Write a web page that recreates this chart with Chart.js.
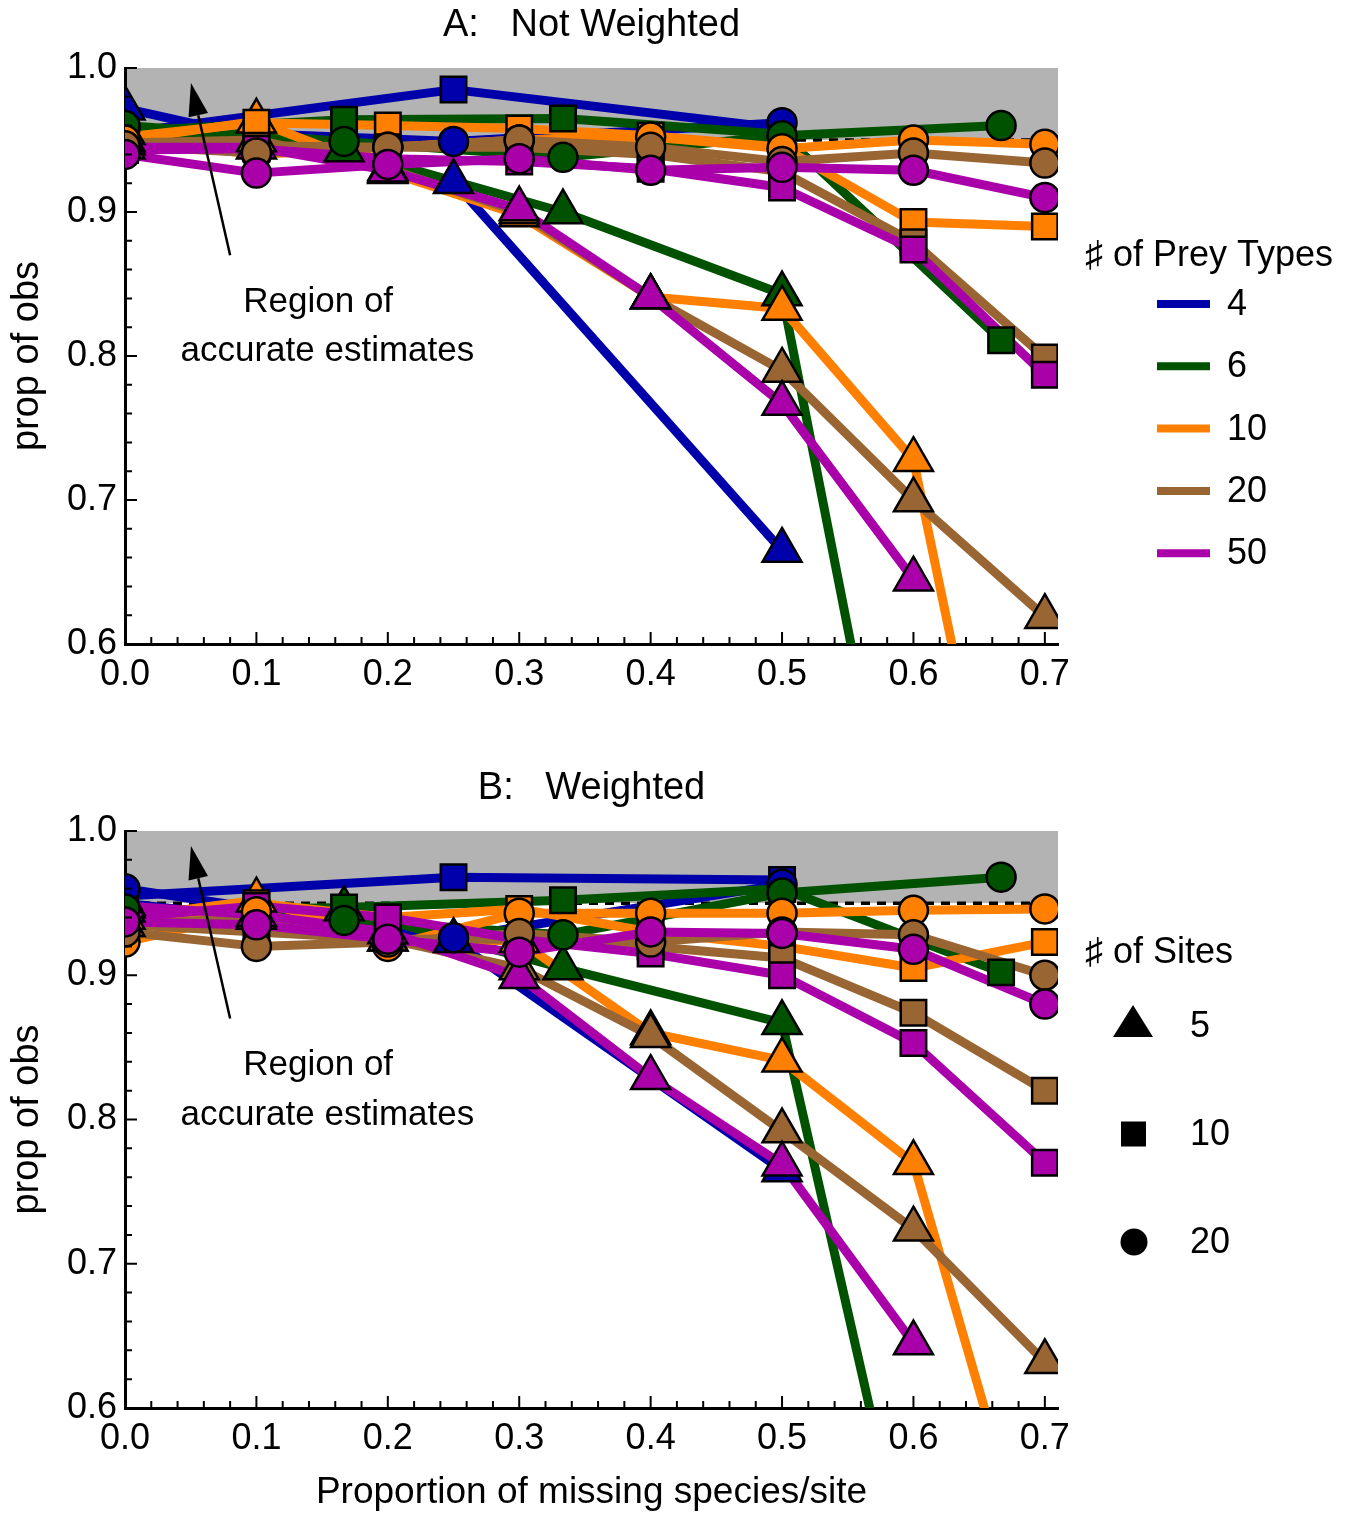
<!DOCTYPE html>
<html>
<head>
<meta charset="utf-8">
<script src="https://cdn.jsdelivr.net/npm/chart.js@4.4.1/dist/chart.umd.min.js"></script>
<style>
  body { margin: 0; background: #fff; }
  .wrap { position: absolute; left: 0; width: 1359px; }
  #wrapA { top: 0; height: 720px; }
  #wrapB { top: 763px; height: 752px; }
</style>
</head>
<body>
<div class="wrap" id="wrapA"><canvas id="chartA"></canvas></div>
<div class="wrap" id="wrapB"><canvas id="chartB"></canvas></div>
<script>
const FONT = "'Liberation Sans', Arial, 'DejaVu Sans', sans-serif";

// series keys
const preyTypes = ['4', '6', '10', '20', '50'];
const preyColors = ['#0000aa', '#005200', '#ff8000', '#996633', '#aa00aa'];
const siteCounts = ['5', '10', '20'];
const siteShapes = ['triangle', 'rect', 'circle'];
const siteRadius = [22.5, 18, 14.5];

// x positions (proportion of missing species) per prey type
const x4 = [0, 0.25, 0.5];
const x6 = [0, 0.1667, 0.3333, 0.5, 0.6667];
const x10 = [0, 0.1, 0.2, 0.3, 0.4, 0.5, 0.6, 0.7];
const xByPrey = [x4, x6, x10, x10, x10];

const xTicks = [0, 0.1, 0.2, 0.3, 0.4, 0.5, 0.6, 0.7];
const xTickLabels = ['0.0', '0.1', '0.2', '0.3', '0.4', '0.5', '0.6', '0.7'];
const yTicks = [0.6, 0.7, 0.8, 0.9, 1.0];
const yTickLabels = ['0.6', '0.7', '0.8', '0.9', '1.0'];

// A: not weighted  (name = a<prey>_<sites>)
const a4_5  = [0.972, 0.921, 0.665];
const a4_10 = [0.955, 0.985, 0.958];
const a4_20 = [0.958, 0.949, 0.962];
const a6_5  = [0.955, 0.943, 0.900, 0.843, 0.07];
const a6_10 = [0.956, 0.964, 0.965, 0.954, 0.811];
const a6_20 = [0.960, 0.949, 0.938, 0.953, 0.960];
const a10_5  = [0.950, 0.963, 0.928, 0.898, 0.841, 0.833, 0.728, 0.29];
const a10_10 = [0.952, 0.962, 0.960, 0.958, 0.953, 0.945, 0.893, 0.890];
const a10_20 = [0.950, 0.940, 0.945, 0.950, 0.952, 0.944, 0.950, 0.947];
const a20_5  = [0.948, 0.950, 0.930, 0.900, 0.841, 0.790, 0.700, 0.619];
const a20_10 = [0.946, 0.946, 0.945, 0.945, 0.940, 0.928, 0.879, 0.799];
const a20_20 = [0.946, 0.941, 0.945, 0.950, 0.945, 0.935, 0.941, 0.934];
const a50_5  = [0.945, 0.945, 0.929, 0.902, 0.841, 0.767, 0.645, null];
const a50_10 = [0.943, 0.944, 0.937, 0.935, 0.930, 0.917, 0.874, 0.787];
const a50_20 = [0.940, 0.927, 0.933, 0.937, 0.929, 0.931, 0.929, 0.910];

// B: weighted
const b4_5  = [0.950, 0.924, 0.765];
const b4_10 = [0.955, 0.968, 0.966];
const b4_20 = [0.960, 0.926, 0.963];
const b6_5  = [0.945, 0.946, 0.905, 0.867, 0.20];
const b6_10 = [0.945, 0.947, 0.952, 0.960, 0.902];
const b6_20 = [0.946, 0.938, 0.928, 0.957, 0.968];
const b10_5  = [0.940, 0.952, 0.925, 0.924, 0.860, 0.841, 0.770, 0.455];
const b10_10 = [0.932, 0.950, 0.940, 0.946, 0.930, 0.920, 0.905, 0.923];
const b10_20 = [0.923, 0.944, 0.920, 0.943, 0.943, 0.943, 0.945, 0.946];
const b20_5  = [0.935, 0.940, 0.925, 0.905, 0.858, 0.792, 0.724, 0.632];
const b20_10 = [0.935, 0.930, 0.925, 0.925, 0.920, 0.912, 0.874, 0.820];
const b20_20 = [0.930, 0.920, 0.923, 0.929, 0.923, 0.930, 0.928, 0.900];
const b50_5  = [0.948, 0.942, 0.930, 0.899, 0.829, 0.769, 0.645, null];
const b50_10 = [0.940, 0.948, 0.940, 0.925, 0.915, 0.900, 0.853, 0.770];
const b50_20 = [0.937, 0.935, 0.925, 0.916, 0.930, 0.929, 0.918, 0.880];

const panelA = [[a4_5, a4_10, a4_20], [a6_5, a6_10, a6_20], [a10_5, a10_10, a10_20],
                [a20_5, a20_10, a20_20], [a50_5, a50_10, a50_20]];
const panelB = [[b4_5, b4_10, b4_20], [b6_5, b6_10, b6_20], [b10_5, b10_10, b10_20],
                [b20_5, b20_10, b20_20], [b50_5, b50_10, b50_20]];

// all lines first, then markers: triangles, squares, circles
function buildDatasets(panel) {
  const lines = [], marks = [];
  const pointsOf = (p, s) => xByPrey[p].map((x, i) => ({ x: x, y: panel[p][s][i] }));
  panel.forEach((group, p) => {
    group.forEach((ys, s) => {
      lines.push({
        label: preyTypes[p] + ' prey, ' + siteCounts[s] + ' sites',
        data: pointsOf(p, s), showLine: true, borderColor: preyColors[p], borderWidth: 9,
        borderJoinStyle: 'round', pointRadius: 0, clip: 0
      });
    });
  });
  siteCounts.forEach((sc, s) => {
    preyTypes.forEach((pt, p) => {
      marks.push({
        label: pt + ' prey, ' + sc + ' sites (markers)',
        data: pointsOf(p, s), showLine: false, pointStyle: siteShapes[s], pointRadius: siteRadius[s],
        pointBackgroundColor: preyColors[p], pointBorderColor: '#000', pointBorderWidth: 2.5, clip: 0
      });
    });
  });
  return lines.concat(marks).map((d, i) => Object.assign(d, { order: -i }));
}

const decor = {
  id: 'decor',
  beforeDraw(chart) {
    const { ctx, chartArea: a, scales: { x, y } } = chart;
    const top = y.getPixelForValue(1.0), band = y.getPixelForValue(0.95);
    ctx.save();
    ctx.fillStyle = '#b3b3b3';
    ctx.fillRect(a.left, top, a.right - a.left, band - top);
    ctx.setLineDash([9, 7]);
    ctx.strokeStyle = '#000';
    ctx.lineWidth = 3.5;
    ctx.beginPath();
    ctx.moveTo(a.left, band);
    ctx.lineTo(a.right, band);
    ctx.stroke();
    ctx.restore();
  },
  afterDraw(chart, args, opts) {
    const { ctx, chartArea: a, scales: { x, y } } = chart;
    ctx.save();
    // inward ticks
    ctx.strokeStyle = '#000';
    ctx.lineWidth = 2;
    ctx.beginPath();
    for (let v = 60; v <= 100; v += 2) {
      const py = y.getPixelForValue(v / 100);
      ctx.moveTo(a.left, py);
      ctx.lineTo(a.left + (v % 10 === 0 ? 12 : 7), py);
    }
    for (let v = 0; v <= 70; v += 2) {
      const px = x.getPixelForValue(v / 100);
      ctx.moveTo(px, a.bottom);
      ctx.lineTo(px, a.bottom - (v % 10 === 0 ? 12 : 7));
    }
    ctx.stroke();

    // arrow + note
    const tx = x.getPixelForValue(0.080), ty = y.getPixelForValue(0.870);
    const hx = x.getPixelForValue(0.0502), hy = y.getPixelForValue(0.9896);
    const ang = Math.atan2(hy - ty, hx - tx);
    const headLen = 33, headW = 10;
    const bx = hx - headLen * Math.cos(ang), by = hy - headLen * Math.sin(ang);
    ctx.lineWidth = 2.5;
    ctx.beginPath();
    ctx.moveTo(tx, ty);
    ctx.lineTo(bx, by);
    ctx.stroke();
    ctx.fillStyle = '#000';
    ctx.beginPath();
    ctx.moveTo(hx, hy);
    ctx.lineTo(bx + headW * Math.sin(ang), by - headW * Math.cos(ang));
    ctx.lineTo(bx - headW * Math.sin(ang), by + headW * Math.cos(ang));
    ctx.closePath();
    ctx.fill();

    ctx.font = '35px ' + FONT;
    ctx.textAlign = 'center';
    ctx.textBaseline = 'middle';
    ctx.fillText('Region of', x.getPixelForValue(0.147), y.getPixelForValue(0.8375));
    ctx.fillText('accurate estimates', x.getPixelForValue(0.154), y.getPixelForValue(0.803));

    // panel title
    ctx.font = '38px ' + FONT;
    ctx.fillText(opts.title, (a.left + a.right) / 2, 26);

    // legends
    ctx.textAlign = 'left';
    ctx.font = '36px ' + FONT;
    if (opts.legend === 'prey') {
      ctx.fillText('\u266F of Prey Types', 1085, 256);
      preyTypes.forEach((t, i) => {
        const ly = 304 + i * 62.3;
        ctx.strokeStyle = preyColors[i];
        ctx.lineWidth = 8;
        ctx.beginPath();
        ctx.moveTo(1157, ly);
        ctx.lineTo(1210, ly);
        ctx.stroke();
        ctx.fillText(t, 1227, ly + 1);
      });
    } else {
      ctx.fillText('\u266F of Sites', 1085, 190);
      const rows = [263, 371, 479];
      ctx.beginPath();
      ctx.moveTo(1133, rows[0] - 21);
      ctx.lineTo(1153, rows[0] + 11);
      ctx.lineTo(1113, rows[0] + 11);
      ctx.closePath();
      ctx.fill();
      ctx.fillRect(1121, rows[1] - 12.5, 25, 25);
      ctx.beginPath();
      ctx.arc(1134, rows[2], 13.5, 0, Math.PI * 2);
      ctx.fill();
      siteCounts.forEach((s, i) => ctx.fillText(s, 1190, rows[i] + 1));
    }
    ctx.restore();
  }
};

function makeChart(id, panel, opts) {
  return new Chart(document.getElementById(id), {
    type: 'scatter',
    data: { datasets: buildDatasets(panel) },
    options: {
      responsive: true,
      maintainAspectRatio: false,
      animation: false,
      events: [],
      layout: { padding: { left: 0, right: 301, top: 68, bottom: 0 } },
      plugins: {
        legend: { display: false },
        tooltip: { enabled: false },
        decor: { title: opts.title, legend: opts.legend }
      },
      scales: {
        x: {
          type: 'linear', min: 0, max: 0.71,
          afterBuildTicks: s => { s.ticks = xTicks.map(v => ({ value: v })); },
          afterFit: s => { s.height = opts.xHeight; },
          grid: { display: false, drawTicks: false },
          border: { display: true, color: '#000', width: 3 },
          ticks: {
            color: '#000', padding: 9, maxRotation: 0, autoSkip: false,
            font: { family: FONT, size: 36 },
            callback: v => xTickLabels[xTicks.indexOf(v)]
          },
          title: {
            display: !!opts.xTitle, text: opts.xTitle || '', color: '#000',
            font: { family: FONT, size: 37 }, padding: { top: 0, bottom: 0 }
          }
        },
        y: {
          type: 'linear', min: 0.6, max: 1.0,
          afterBuildTicks: s => { s.ticks = yTicks.map(v => ({ value: v })); },
          afterFit: s => { s.width = 125; },
          grid: { display: false, drawTicks: false },
          border: { display: true, color: '#000', width: 3 },
          ticks: {
            color: '#000', padding: 8, autoSkip: false,
            font: { family: FONT, size: 36 },
            callback: v => yTickLabels[yTicks.indexOf(v)]
          },
          title: {
            display: true, text: 'prop of obs', color: '#000',
            font: { family: FONT, size: 38 }, padding: { top: 5, bottom: 0 }
          }
        }
      }
    },
    plugins: [decor]
  });
}

makeChart('chartA', panelA, { title: 'A:   Not Weighted', legend: 'prey', xHeight: 76 });
makeChart('chartB', panelB, { title: 'B:   Weighted', legend: 'sites', xHeight: 107,
  xTitle: 'Proportion of missing species/site' });
</script>
</body>
</html>
